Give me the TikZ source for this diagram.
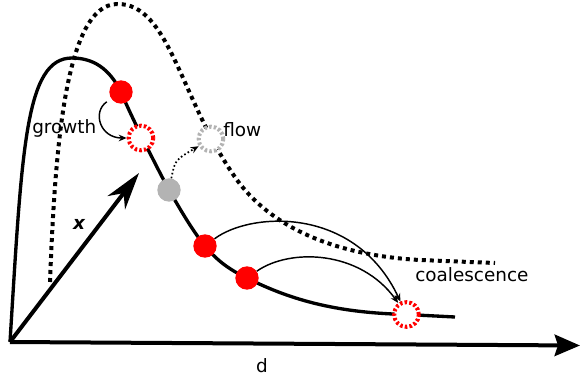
\documentclass[tikz,border=0pt]{standalone}
\usepackage{fontspec}
\setmainfont{DejaVu Sans}
\usetikzlibrary{arrows.meta}
\definecolor{lgray}{HTML}{B3B3B3}
\tikzset{
  axis/.style={line width=3pt},
  curve/.style={line width=2.5pt},
  dotcurve/.style={line width=3pt, dash pattern=on 3pt off 3pt},
  dot/.style={circle, inner sep=0pt, minimum size=17.5pt, draw=none},
  ring/.style={circle, inner sep=0pt, minimum size=18.5pt, line width=3pt, dash pattern=on 1.9pt off 1.6pt, fill=white},
  thinarrow/.style={line width=1.1pt, -{Stealth[length=6pt,width=5pt]}},
  flowarrow/.style={line width=1.3pt, dash pattern=on 1.2pt off 1.8pt, -{Stealth[length=6pt,width=5pt]}},
  lbl/.style={inner sep=0pt, font=\fontsize{13.8}{16}\selectfont},
}
\begin{document}
\begin{tikzpicture}[x=0.75pt,y=-0.75pt]
\useasboundingbox (0,0) rectangle (580,381);
\coordinate (O) at (10,342);
\coordinate (dend) at (580,345.5);
\coordinate (xend) at (139,173);
% dotted curve
\draw[dotcurve] (50,282) .. controls (55,150) and (65,5) .. (117,4)
  .. controls (170,3) and (180,100) .. (237,180)
  .. controls (270,225) and (330,255) .. (420,260) -- (495,263);
% axes
\draw[axis, -{Stealth[length=19pt,width=16pt,inset=2.5pt]}] (O) -- (dend);
\draw[axis, -{Stealth[length=28pt,width=16.5pt,inset=9pt]}] (O) -- (xend);
% positions of the markers
\coordinate (pr1) at (121,92);
\coordinate (pc1) at (141,138);
\coordinate (pg) at (169,190);
\coordinate (pr3) at (205,246);
\coordinate (pr4) at (247,278);
\coordinate (pc2) at (406.5,314.5);
% main curve
\draw[curve] (O) .. controls (22,150) and (25,58) .. (72,58)
  .. controls (98,58) and (112,74) .. (pr1)
  .. controls (130,114) and (156,166) .. (pg)
  .. controls (180,209) and (192,230) .. (pr3)
  .. controls (218,262) and (232,271) .. (pr4)
  .. controls (300,305) and (350,313) .. (pc2) -- (455,317);
% markers
\node[dot, fill=red] (r1) at (pr1) {};
\node[ring, draw=red] (c1) at (pc1) {};
\node[dot, fill=lgray] (g) at (pg) {};
\node[ring, draw=lgray] (fl) at (211,139) {};
\node[dot, fill=red] (r3) at (pr3) {};
\node[dot, fill=red] (r4) at (pr4) {};
\node[ring, draw=red] (c2) at (pc2) {};
% arrows
\draw[thinarrow, shorten <=4pt] (r1) .. controls (92,112) and (100,138) .. (c1);
\draw[flowarrow] (g) .. controls (175,160) .. (fl);
\draw[thinarrow] (r3) .. controls (250,212) and (355,205) .. (c2);
\draw[thinarrow] (r4) .. controls (290,248) and (360,250) .. (c2);
% labels
\node[lbl, anchor=base west] (lgrowth) at (32,133) {growth};
\node[lbl, anchor=base west] (lflow) at (223,136) {flow};
\node[lbl, anchor=base west] (lcoal) at (415,281.5) {coalescence};
\node[lbl, anchor=base] (ld) at (262,372.5) {d};
\node[lbl, anchor=base] (lx) at (79,229) {\bfseries\itshape x};
\end{tikzpicture}
\end{document}
